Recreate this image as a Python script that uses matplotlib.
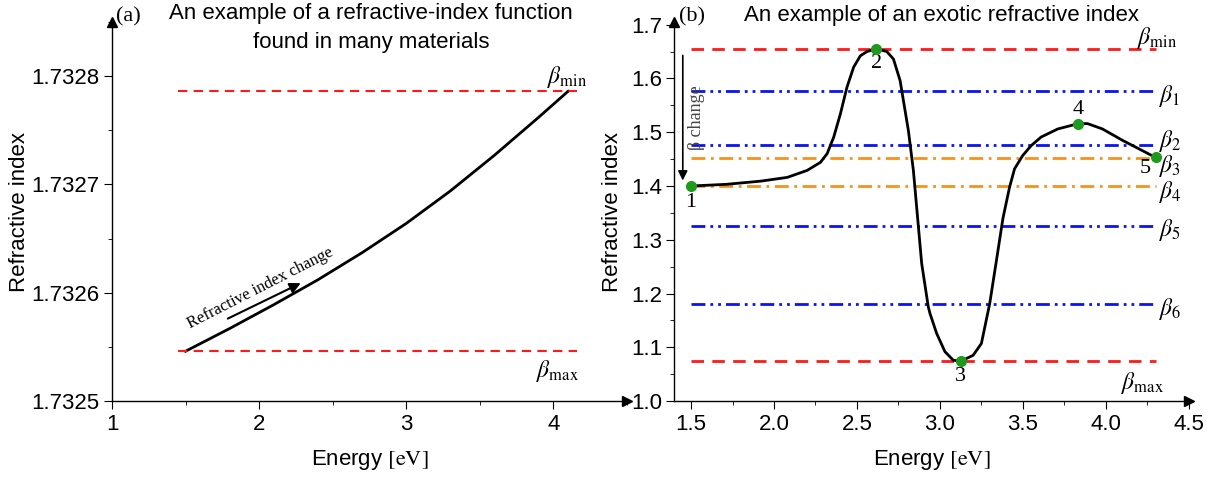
import matplotlib
matplotlib.use("Agg")
import matplotlib.pyplot as plt
from matplotlib.ticker import MultipleLocator, FormatStrFormatter

plt.rcParams['font.family'] = ['Liberation Sans', 'DejaVu Sans']
plt.rcParams['mathtext.fontset'] = 'stix'

# panel (a): ordinary dispersion
left_energy = [1.5, 1.8, 2.1, 2.4, 2.7, 3.0, 3.3, 3.6, 3.9, 4.1]
left_index = [1.732546, 1.732567, 1.732589, 1.732612, 1.732637,
              1.732664, 1.732694, 1.732727, 1.732762, 1.732786]
left_beta_min = 1.732786
left_beta_max = 1.732546

# panel (b): exotic refractive index
right_energy = [1.50, 1.71, 1.92, 2.08, 2.20, 2.28, 2.32, 2.36, 2.40, 2.44,
                2.48, 2.52, 2.56, 2.617, 2.68, 2.72, 2.76, 2.81, 2.84, 2.86,
                2.89, 2.93, 2.94, 2.98, 3.03, 3.08, 3.125, 3.20, 3.25, 3.30,
                3.34, 3.38, 3.42, 3.45, 3.50, 3.55, 3.61, 3.71, 3.835, 3.89,
                3.98, 4.10, 4.20, 4.30]
right_index = [1.400, 1.403, 1.409, 1.416, 1.429, 1.444, 1.460, 1.491, 1.534, 1.584,
               1.621, 1.642, 1.650, 1.655, 1.650, 1.636, 1.596, 1.503, 1.429, 1.360,
               1.256, 1.175, 1.163, 1.126, 1.092, 1.076, 1.074, 1.085, 1.107, 1.181,
               1.260, 1.340, 1.398, 1.432, 1.457, 1.475, 1.491, 1.506, 1.516, 1.516,
               1.506, 1.485, 1.469, 1.453]
point_energy = [1.5, 2.617, 3.125, 3.835, 4.30]
point_index = [1.400, 1.655, 1.074, 1.516, 1.453]
point_labels = ['1', '2', '3', '4', '5']

beta_names = ['min', '1', '2', '3', '4', '5', '6', 'max']
beta_levels = [1.655, 1.577, 1.476, 1.4525, 1.400, 1.3255, 1.18, 1.074]
beta_kinds = ['red', 'blue', 'blue', 'orange', 'orange', 'blue', 'blue', 'red']

RED = '#ff1a1a'
BLUE = '#0a14f0'
ORANGE = '#f7901e'
GREEN = '#1e9a1e'
styles = {
    'red': dict(color=RED, dashes=(4.5, 3)),
    'blue': dict(color=BLUE, dashes=(5, 1.8, 1, 1.8, 1, 1.8)),
    'orange': dict(color=ORANGE, dashes=(5, 2, 1, 2)),
}
SERIF = ['Liberation Serif', 'DejaVu Serif']
FS = 16


def style_axes(ax):
    for s in ['top', 'right']:
        ax.spines[s].set_visible(False)
    for s in ['left', 'bottom']:
        ax.spines[s].set_linewidth(1.0)
    ax.tick_params(which='major', direction='out', length=5.5, labelsize=FS)
    ax.tick_params(which='minor', direction='out', length=3)
    # arrows at the axis ends
    ax.plot(1, 0, '>k', ms=7, transform=ax.transAxes, clip_on=False)
    ax.plot(0, 1, '^k', ms=7, transform=ax.transAxes, clip_on=False)


fig = plt.figure(figsize=(12.23, 4.78), dpi=100)
ax1 = fig.add_axes([0.0916, 0.161, 0.421, 0.793])
ax2 = fig.add_axes([0.5515, 0.161, 0.4205, 0.793])

# ---- panel (a)
ax1.plot(left_energy, left_index, color='k', lw=2)
ax1.plot([1.45, 4.16], [left_beta_min] * 2, lw=1.5, **styles['red'])
ax1.plot([1.45, 4.16], [left_beta_max] * 2, lw=1.5, **styles['red'])
ax1.set_xlim(1, 4.5)
ax1.set_ylim(1.7325, 1.73285)
ax1.xaxis.set_major_locator(MultipleLocator(1))
ax1.xaxis.set_minor_locator(MultipleLocator(0.5))
ax1.yaxis.set_major_locator(MultipleLocator(0.0001))
ax1.yaxis.set_minor_locator(MultipleLocator(0.00005))
ax1.yaxis.set_major_formatter(FormatStrFormatter('%.4f'))
style_axes(ax1)
ax1.text(3.96, 1.7327995, r'$\beta_{\mathrm{min}}$', fontsize=17, ha='left', va='center')
ax1.text(3.88, 1.7325276, r'$\beta_{\mathrm{max}}$', fontsize=17, ha='left', va='center')
ax1.annotate('', xy=(2.30, 1.732610), xytext=(1.77, 1.732575),
             arrowprops=dict(arrowstyle='-|>', color='k', lw=1.5, mutation_scale=16))
ax1.text(2.01, 1.7326045, 'Refractive index change', rotation=27, fontsize=12,
         family=SERIF, ha='center', va='center')
ax1.text(0.503, 1.05, 'An example of a refractive-index function\nfound in many materials',
         transform=ax1.transAxes, ha='center', va='top', fontsize=FS, linespacing=1.5)
ax1.text(0.008, 1.04, '(a)', transform=ax1.transAxes, ha='left', va='top',
         fontsize=FS, family=SERIF)
ax1.set_xlabel(r'Energy $\mathrm{[eV]}$', fontsize=FS)
ax1.set_ylabel('Refractive index', fontsize=FS)
ax1.xaxis.set_label_coords(0.5, -0.125)
ax1.yaxis.set_label_coords(-0.16, 0.5)

# ---- panel (b)
for name, lvl, kind in zip(beta_names, beta_levels, beta_kinds):
    ax2.plot([1.5, 4.3], [lvl, lvl], lw=2, **styles[kind])
ax2.plot(right_energy, right_index, color='k', lw=2)
ax2.plot(point_energy, point_index, 'o', color=GREEN, ms=7, zorder=5)

label_pos = {
    'min': (4.19, 1.675), '1': (4.32, 1.568), '2': (4.32, 1.484),
    '3': (4.32, 1.438), '4': (4.32, 1.388), '5': (4.32, 1.318),
    '6': (4.32, 1.172), 'max': (4.09, 1.034),
}
for name in beta_names:
    x, y = label_pos[name]
    sub = r'\mathrm{%s}' % name if name in ('min', 'max') else name
    ax2.text(x, y, r'$\beta_{%s}$' % sub, fontsize=17, ha='left', va='center')

num_pos = [(1.5, 1.369), (2.617, 1.628), (3.125, 1.045), (3.835, 1.542), (4.24, 1.432)]
for (x, y), t in zip(num_pos, point_labels):
    ax2.text(x, y, t, fontsize=FS, family=SERIF, ha='center', va='center')

ax2.annotate('', xy=(1.45, 1.405), xytext=(1.45, 1.648),
             arrowprops=dict(arrowstyle='-|>', color='k', lw=1.2, mutation_scale=14))
ax2.text(1.535, 1.527, 'β change', rotation=90, fontsize=13,
         family=SERIF, ha='center', va='center', color='#444444')

ax2.set_xlim(1.4, 4.5)
ax2.set_ylim(1.0, 1.705)
ax2.xaxis.set_major_locator(MultipleLocator(0.5))
ax2.xaxis.set_minor_locator(MultipleLocator(0.25))
ax2.yaxis.set_major_locator(MultipleLocator(0.1))
ax2.yaxis.set_minor_locator(MultipleLocator(0.05))
ax2.xaxis.set_major_formatter(FormatStrFormatter('%.1f'))
ax2.yaxis.set_major_formatter(FormatStrFormatter('%.1f'))
style_axes(ax2)
ax2.text(0.52, 1.045, 'An example of an exotic refractive index',
         transform=ax2.transAxes, ha='center', va='top', fontsize=FS)
ax2.text(0.008, 1.04, '(b)', transform=ax2.transAxes, ha='left', va='top',
         fontsize=FS, family=SERIF)
ax2.set_xlabel(r'Energy $\mathrm{[eV]}$', fontsize=FS)
ax2.set_ylabel('Refractive index', fontsize=FS)
ax2.xaxis.set_label_coords(0.5, -0.125)
ax2.yaxis.set_label_coords(-0.10, 0.5)

fig.savefig('out.png', dpi=100)
